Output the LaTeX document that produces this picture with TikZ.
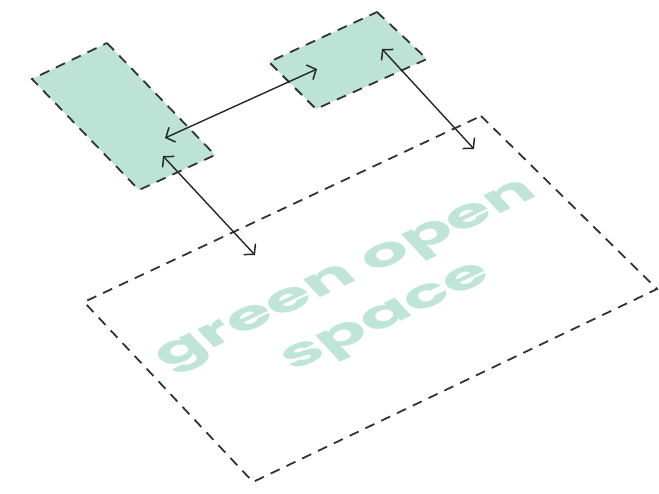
\documentclass[tikz,border=0pt]{standalone}
\usepackage{fontspec}
\newfontfamily\gofont{Poppins}
\usetikzlibrary{arrows.meta}
\definecolor{mint}{HTML}{BCE3D6}
\definecolor{minttext}{HTML}{BFE4D8}
\definecolor{dashgray}{HTML}{333333}
\begin{document}
\begin{tikzpicture}[x=1pt,y=-1pt,
  zone/.style={draw=dashgray, line width=1.8pt, dash pattern=on 10pt off 7.5pt, line join=miter},
  greenzone/.style={zone, fill=mint},
  link/.style={draw=black!85, line width=1.4pt,
    {Straight Barb[length=7pt,width=16pt,line width=1.5pt]}-{Straight Barb[length=7pt,width=16pt,line width=1.5pt]}}]
\useasboundingbox (0,0) rectangle (659,493);
% left green block
\coordinate (A1) at (107,43);
\coordinate (A2) at (215,155);
\coordinate (A3) at (139,190);
\coordinate (A4) at (32,79);
% small green block
\coordinate (B1) at (377,12);
\coordinate (B2) at (427,59);
\coordinate (B3) at (316,109);
\coordinate (B4) at (269,62);
% open space
\coordinate (C1) at (481,116);
\coordinate (C2) at (657,289);
\coordinate (C3) at (253,482);
\coordinate (C4) at (84,302);
\path[greenzone] (A1) -- (A2) -- (A3) -- (A4) -- cycle;
\path[greenzone] (B1) -- (B2) -- (B3) -- (B4) -- cycle;
\path[zone] (C1) -- (C2) -- (C3) -- (C4) -- cycle;
% label
\begin{scope}[shift={(369,299)}, cm={1.45,0.68,-0.684,0.729,(0,0)}]
\node[transform shape, text=minttext, align=center,
  font=\gofont\bfseries\fontsize{44}{58}\selectfont, inner sep=0pt] (label) at (0,0) {green open\\space};
\end{scope}
% arrow ends
\coordinate (a1) at (165,138);
\coordinate (b1) at (317,69);
\coordinate (a2) at (163,156);
\coordinate (c1) at (255,255);
\coordinate (b2) at (382,49);
\coordinate (c2) at (474,149);
\draw[link] (a1) -- (b1);
\draw[link] (a2) -- (c1);
\draw[link] (b2) -- (c2);
\end{tikzpicture}
\end{document}
